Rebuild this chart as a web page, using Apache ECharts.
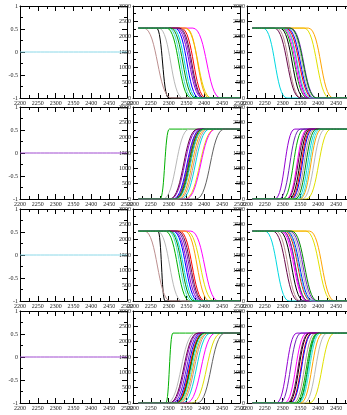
<!DOCTYPE html>
<html>
<head>
<meta charset="utf-8">
<script src="https://cdn.jsdelivr.net/npm/echarts@6/dist/echarts.min.js"></script>
<style>
html, body {margin: 0; background: #fff;}
#main {width: 347px; height: 415px;}
</style>
</head>
<body>
<div id="main"></div>
<script>
// x axis shared by all panels
const xRange = [2200, 2500, 50];
// left column: flat signal, other columns: switching curves
const flatRange = [-1, 1, 0.5];
const curveRange = [0, 3000, 500];
const plateau = 2280;
const curveStart = 2215;

// colour of the flat zero line, per row
const flatColors = ['#8ad8e8', '#a04ad0', '#8ad8e8', '#a04ad0'];
// grace-like palette, index i belongs to curve i of every panel
const palette = ['#000000', '#ff0000', '#00b000', '#0000ff', '#e0e000', '#bc8f8f', '#b8b8b8', '#9400d3',
	'#00d8e0', '#ff00ff', '#ffa500', '#7221bc', '#670748', '#40e0d0', '#008b00', '#606060'];

// each curve: [x where it leaves the first level, x where it reaches the second level]
const row1Mid = [[2266, 2300], [2335, 2405], [2294, 2363], [2317, 2386], [2345, 2420], [2230, 2308],
	[2272, 2340], [2321, 2395], [2310, 2380], [2368, 2446], [2349, 2414], [2326, 2398], [2330, 2400],
	[2300, 2368], [2305, 2375]];
const row1Right = [[2292, 2362], [2308, 2385], [2296, 2370], [2312, 2388], [2360, 2432], [2283, 2352],
	[2318, 2390], [2305, 2375], [2245, 2312], [2300, 2372], [2372, 2442], [2322, 2396], [2276, 2350],
	[2303, 2380], [2320, 2395]];
const row2Mid = [[2320, 2400], [2316, 2395], [2276, 2302], [2312, 2391], [2345, 2430], [2330, 2410],
	[2284, 2358], [2305, 2385], [2335, 2415], [2348, 2432], [2326, 2405], [2315, 2392], [2303, 2381],
	[2322, 2400], [2318, 2396], [2377, 2456]];
const row2Right = [[2318, 2378], [2322, 2382], [2300, 2360], [2325, 2385], [2366, 2436], [2330, 2390],
	[2355, 2420], [2278, 2334], [2340, 2400], [2310, 2370], [2348, 2410], [2290, 2350], [2312, 2374],
	[2345, 2405], [2335, 2395]];
const row3Mid = [[2270, 2290], [2330, 2402], [2290, 2360], [2312, 2384], [2350, 2428], [2232, 2305],
	[2268, 2338], [2315, 2390], [2305, 2378], [2362, 2440], [2345, 2415], [2320, 2395], [2325, 2398],
	[2298, 2366], [2302, 2372]];
const row3Right = [[2290, 2360], [2305, 2380], [2300, 2372], [2310, 2385], [2365, 2440], [2280, 2350],
	[2315, 2390], [2300, 2370], [2250, 2318], [2295, 2368], [2375, 2446], [2320, 2394], [2272, 2345],
	[2308, 2382], [2325, 2398]];
const row4Mid = [[2320, 2400], [2318, 2398], [2292, 2312], [2315, 2394], [2365, 2448], [2332, 2412],
	[2295, 2375], [2305, 2385], [2338, 2418], [2350, 2432], [2328, 2408], [2310, 2390], [2302, 2382],
	[2325, 2404], [2322, 2400], [2380, 2458]];
const row4Right = [[2315, 2376], [2320, 2382], [2335, 2398], [2322, 2384], [2375, 2446], [2330, 2392],
	[2360, 2425], [2282, 2340], [2342, 2402], [2305, 2368], [2350, 2414], [2292, 2352], [2312, 2374],
	[2345, 2406], [2340, 2400]];

const rows = [
	{dir: 'fall', curves: [row1Mid, row1Right]},
	{dir: 'rise', curves: [row2Mid, row2Right]},
	{dir: 'fall', curves: [row3Mid, row3Right]},
	{dir: 'rise', curves: [row4Mid, row4Right]},
];

const lefts = [20, 133, 247];
const tops = [6, 107, 209, 311];
const W = 107, H = 92;
const font = 'Liberation Serif';

const grids = [], xAxes = [], yAxes = [], series = [];

function axis(gridIndex, position, range, labels) {
	return {
		type: 'value', gridIndex, position,
		min: range[0], max: range[1], interval: range[2],
		axisLine: {show: true, onZero: false, lineStyle: {color: '#000', width: 1}},
		axisTick: {show: true, inside: true, length: 5, lineStyle: {color: '#000'}},
		minorTick: {show: true, splitNumber: 2, length: 3, lineStyle: {color: '#000'}},
		splitLine: {show: false},
		axisLabel: {
			show: labels, interval: 0, margin: 2, fontSize: 6, fontFamily: font, color: '#222',
			hideOverlap: false, formatter: v => String(v)
		}
	};
}

function lineSeries(xi, yi, data, color) {
	return {
		type: 'line', xAxisIndex: xi, yAxisIndex: yi, data,
		symbol: 'none', smooth: true, smoothMonotone: 'x',
		lineStyle: {color, width: 1}, silent: true, animation: false
	};
}

rows.forEach((row, r) => {
	for (let c = 0; c < 3; c++) {
		const g = grids.length;
		const yRange = c === 0 ? flatRange : curveRange;
		grids.push({left: lefts[c], top: tops[r], width: W, height: H, outerBoundsMode: 'none', containLabel: false});
		xAxes.push(axis(g, 'bottom', xRange, true), axis(g, 'top', xRange, false));
		yAxes.push(axis(g, 'left', yRange, true), axis(g, 'right', yRange, false));
		const xi = 2 * g, yi = 2 * g;
		if (c === 0) {
			series.push(lineSeries(xi, yi, [[xRange[0], 0], [xRange[1], 0]], flatColors[r]));
			continue;
		}
		row.curves[c - 1].forEach((cv, i) => {
			const hi = plateau, lo = 0;
			const a = row.dir === 'fall' ? hi : lo;
			const b = row.dir === 'fall' ? lo : hi;
			series.push(lineSeries(xi, yi,
				[[curveStart, a], [cv[0], a], [cv[1], b], [xRange[1], b]],
				palette[i % palette.length]));
		});
	}
});

const chart = echarts.init(document.getElementById('main'));
chart.setOption({
	animation: false,
	backgroundColor: '#fff',
	grid: grids,
	xAxis: xAxes,
	yAxis: yAxes,
	series
});
</script>
</body>
</html>
